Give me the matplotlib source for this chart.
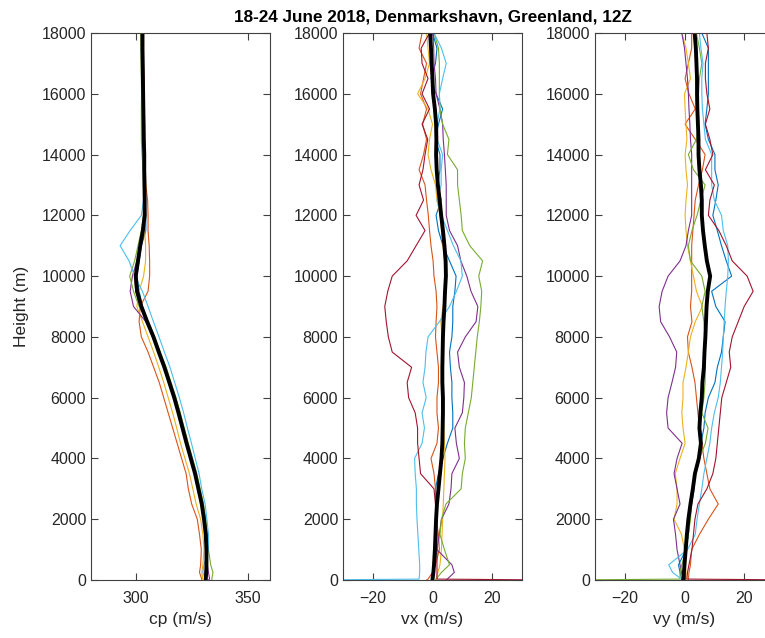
import matplotlib; matplotlib.use("Agg")
import matplotlib.pyplot as plt

plt.rcParams["font.family"] = ["Liberation Sans", "DejaVu Sans"]

# heights (m) shared by every profile
H = [0, 30, 250, 500, 1000, 1500, 2000, 2500, 3000, 3500, 4000, 4500, 5000, 5500, 6000,
     6500, 7000, 7500, 8000, 8500, 9000, 9500, 10000, 10500, 11000, 11500, 12000, 12500,
     13000, 13500, 14000, 14500, 15000, 15500, 16000, 16500, 17000, 17500, 18000]

# MATLAB default line colours, in plotting order
COLS = ["#0072BD", "#D95319", "#EDB120", "#7E2F8E", "#77AC30", "#4DBEEE", "#A2142F"]
NAMES = ["blue", "orange", "yellow", "purple", "green", "lightblue", "darkred"]

# ---- cp (m/s) ----
cp_blue = [331.0, 331.0, 331.0, 331.5, 332.0, 331.5, 330.8, 329.8, 328.5, 327.0, 325.2, 323.2, 321.5, 319.8, 317.8, 315.6, 313.3, 310.8, 308.3, 305.5, 303.0, 301.5, 300.5, 301.5, 302.5, 304.5, 304.5, 304.2, 304.0, 304.0, 303.9, 303.8, 303.7, 303.7, 303.6, 303.5, 303.5, 303.4, 303.3]
cp_orange = [329.5, 329.5, 328.5, 329.0, 329.3, 328.5, 327.5, 325.0, 323.5, 322.5, 320.5, 318.5, 316.5, 314.5, 312.5, 310.5, 308.0, 305.5, 302.5, 301.5, 302.0, 305.5, 306.2, 306.2, 306.0, 305.5, 305.5, 305.3, 304.5, 304.3, 304.3, 304.0, 304.0, 303.8, 303.8, 303.8, 303.5, 303.5, 303.5]
cp_yellow = [330.0, 330.0, 329.5, 330.0, 330.5, 330.0, 329.0, 327.0, 325.5, 324.0, 322.0, 320.0, 318.3, 316.5, 314.5, 312.5, 310.3, 308.0, 305.5, 303.0, 300.5, 301.5, 303.5, 304.4, 304.4, 304.0, 304.5, 304.0, 303.8, 303.6, 303.6, 303.5, 303.4, 303.4, 303.3, 303.2, 303.2, 303.0, 303.0]
cp_purple = [332.5, 333.0, 332.5, 332.0, 331.5, 331.5, 330.8, 329.8, 328.3, 326.8, 325.0, 323.0, 321.0, 319.3, 317.3, 315.2, 313.0, 310.5, 308.0, 304.5, 299.0, 297.5, 298.5, 300.5, 302.0, 303.0, 303.8, 303.8, 303.7, 303.7, 303.6, 303.5, 303.4, 303.3, 303.2, 303.1, 303.0, 302.9, 302.8]
cp_green = [334.0, 334.0, 334.5, 333.5, 332.5, 332.0, 331.3, 330.3, 328.8, 327.3, 325.4, 323.5, 321.7, 319.9, 318.0, 315.8, 313.6, 311.0, 308.5, 305.5, 301.5, 299.0, 297.3, 299.5, 301.0, 302.5, 303.5, 303.6, 303.4, 303.3, 302.8, 302.5, 302.5, 302.5, 302.6, 302.5, 302.4, 302.3, 302.2]
cp_lightblue = [331.5, 331.0, 330.0, 330.5, 332.5, 332.5, 331.8, 331.0, 329.5, 328.3, 326.6, 324.9, 323.1, 321.4, 319.5, 317.4, 315.3, 312.8, 310.4, 307.9, 305.5, 303.0, 299.5, 297.0, 293.0, 297.5, 302.5, 303.5, 303.6, 303.3, 303.3, 303.3, 303.0, 302.9, 302.8, 302.7, 302.6, 302.5, 302.7]
cp_darkred = [331.5, 331.5, 331.0, 331.5, 331.8, 331.3, 330.3, 329.3, 327.8, 326.3, 324.4, 322.5, 320.7, 318.9, 317.0, 314.8, 312.6, 310.1, 307.7, 304.8, 302.0, 300.0, 299.5, 300.8, 301.8, 303.0, 303.8, 303.9, 303.8, 303.7, 303.7, 303.5, 303.4, 303.3, 303.2, 303.1, 303.0, 303.0, 302.9]
cp_mean = [331.3, 331.3, 331.5, 331.6, 331.6, 331.3, 330.5, 329.5, 328.0, 326.5, 324.6, 322.7, 320.9, 319.1, 317.2, 315.0, 312.8, 310.3, 307.9, 305.1, 302.5, 300.6, 300.0, 301.0, 302.0, 303.2, 304.0, 304.0, 303.9, 303.8, 303.8, 303.6, 303.5, 303.4, 303.3, 303.2, 303.1, 303.0, 303.0]

# ---- vx (m/s) ----
vx_blue = [0.0, 0.3, 0.5, 0.8, 1.5, 1.5, 1.2, 1.0, 1.0, 2.0, 3.5, 5.0, 6.8, 6.8, 6.5, 6.5, 6.0, 5.7, 6.5, 6.8, 6.8, 7.5, 7.9, 5.7, 3.5, 2.0, 1.2, 2.9, 1.8, 2.5, 2.5, 1.0, 2.0, 3.4, 1.2, -0.5, 1.0, 1.5, 0.0]
vx_orange = [-2.0, -1.5, 0.0, 1.0, 2.3, 2.0, 1.2, 1.2, 1.0, 0.5, -0.5, 1.5, 2.0, 1.5, 1.5, 2.0, 2.0, 1.5, 1.0, 1.2, 1.5, 1.2, 0.5, 0.2, -0.5, -1.0, -1.4, -2.0, -2.5, -4.5, -3.0, -2.0, -3.3, -2.0, -4.0, -3.0, -2.0, -4.5, -3.5]
vx_yellow = [1.0, 1.2, 1.8, 2.5, 3.0, 3.2, 3.4, 3.6, 3.8, 4.0, 4.2, 4.0, 3.8, 3.6, 3.5, 3.5, 3.4, 3.3, 3.2, 2.8, 3.5, 4.6, 4.3, 4.0, 3.5, 3.0, 2.6, 1.5, 1.0, -0.5, -1.5, -1.0, 0.0, -1.5, -5.0, -2.5, -1.0, -1.5, -2.0]
vx_purple = [4.6, 5.0, 7.3, 6.5, 1.5, 2.3, 3.0, 5.5, 6.2, 6.5, 9.0, 8.0, 7.5, 10.0, 10.5, 10.7, 9.0, 8.4, 11.0, 14.6, 15.2, 12.9, 11.5, 9.5, 8.4, 5.7, 4.6, 4.6, 4.6, 4.3, 4.0, 3.6, 3.4, 2.5, 1.2, 1.0, 0.5, 0.4, 0.1]
vx_green = [1.0, 1.2, 3.0, 5.7, 4.0, 2.5, 3.0, 4.5, 9.6, 10.0, 11.0, 10.7, 11.0, 12.0, 13.0, 13.5, 14.0, 14.5, 15.0, 15.7, 16.2, 16.5, 15.5, 16.8, 12.5, 10.0, 9.6, 9.0, 8.4, 8.4, 5.0, 5.5, 3.4, 2.5, 2.3, 2.3, 2.3, 2.0, 0.5]
vx_lightblue = [-40.0, -4.5, -4.3, -4.3, -4.6, -4.9, -5.2, -5.4, -5.4, -5.8, -6.0, -3.5, -2.7, -3.5, -2.1, -3.2, -2.5, -2.2, -1.5, 2.3, 5.7, 8.0, 10.0, 9.5, 7.0, 5.0, 3.0, 1.5, 2.9, 2.9, 3.4, 1.5, 1.5, 2.5, 2.3, 3.4, 4.6, 3.0, 0.5]
vx_darkred = [40.0, 1.5, 1.5, 1.5, 1.5, 1.2, 1.5, 1.0, 0.5, -4.0, -4.5, -5.0, -5.0, -5.8, -8.0, -8.5, -7.0, -13.5, -14.8, -15.5, -16.0, -15.0, -13.5, -8.5, -5.5, -2.5, -5.5, -3.0, -4.5, -3.2, -2.5, -1.6, -3.5, -1.0, -3.5, -1.5, -3.5, -3.8, -1.0]
vx_mean = [0.0, 0.0, 0.3, 0.5, 0.8, 1.0, 1.2, 1.5, 2.0, 2.5, 3.0, 3.3, 3.4, 3.5, 3.5, 3.3, 3.3, 3.4, 3.5, 3.7, 4.0, 4.2, 4.5, 4.4, 4.0, 3.5, 2.9, 2.4, 1.8, 1.4, 1.2, 1.3, 1.2, 0.8, 0.2, 0.0, -0.3, -0.5, -0.8]

# ---- vy (m/s) ----
vy_blue = [-0.9, -0.9, -1.5, -2.0, 0.5, 1.3, 1.8, 2.4, 3.2, 3.6, 4.7, 5.5, 6.5, 6.9, 8.0, 10.2, 11.0, 12.4, 13.0, 13.6, 10.5, 9.1, 15.8, 14.0, 12.4, 11.0, 9.5, 10.5, 11.3, 10.2, 10.2, 8.0, 6.9, 7.5, 8.0, 8.0, 8.0, 8.0, 5.8]
vy_orange = [1.3, 1.3, 1.5, 2.0, 2.4, 5.0, 8.0, 11.3, 8.5, 7.5, 6.5, 5.8, 5.0, 4.5, 4.0, 3.5, 2.5, 1.3, 1.0, 2.5, 2.0, 2.4, 2.4, 2.4, 2.4, 2.8, 3.2, 3.6, 4.7, 6.0, 6.9, 3.6, 0.2, 3.6, 1.5, 0.2, 1.3, 2.4, 2.4]
vy_yellow = [0.5, 0.5, 0.5, 0.3, 0.0, -1.0, -3.5, -2.5, -2.5, -3.1, -1.5, 0.2, -0.5, -0.9, -0.5, -0.5, 0.5, 1.3, 2.0, 3.6, 6.0, 4.0, 3.0, 2.0, 1.0, 0.5, 0.2, 0.5, 1.0, 0.5, 0.2, 0.8, 0.5, 0.2, 0.0, 2.0, 1.3, 0.5, -0.9]
vy_purple = [-0.5, -0.5, -1.0, -1.5, -2.5, -3.0, -3.7, -1.5, -2.5, -3.5, -2.5, -0.8, -5.5, -6.0, -5.5, -4.2, -3.0, -2.6, -5.0, -8.0, -8.5, -7.5, -5.5, -1.5, 0.5, 1.3, 2.4, 2.4, 2.4, 2.4, 2.4, 2.0, 1.8, 1.5, 1.3, 1.0, 0.5, 0.0, -0.9]
vy_green = [-40.0, -1.5, -1.5, -0.9, 0.5, 1.3, 2.0, 2.4, 3.0, 3.6, 5.0, 7.0, 7.9, 5.8, 6.5, 6.9, 7.0, 7.0, 6.9, 6.5, 5.8, 6.9, 5.8, 2.0, 1.3, 2.5, 4.2, 5.5, 6.9, 3.0, 1.3, 4.0, 4.7, 4.7, 4.7, 5.0, 5.8, 5.0, 4.0]
vy_lightblue = [-0.9, -1.0, -4.0, -5.3, 1.0, 3.6, 4.2, 5.0, 5.8, 6.5, 7.5, 8.5, 9.1, 10.0, 11.3, 12.0, 12.4, 12.8, 13.0, 13.3, 13.6, 14.0, 14.5, 14.7, 14.5, 13.0, 12.4, 10.0, 9.1, 9.1, 9.1, 7.0, 6.5, 6.0, 5.8, 5.8, 6.2, 5.5, 5.0]
vy_darkred = [40.0, 0.8, 1.0, 1.5, 2.5, 3.0, 3.5, 4.5, 7.5, 9.5, 10.5, 11.0, 11.5, 12.0, 12.5, 14.0, 15.5, 15.0, 16.0, 18.0, 20.0, 23.0, 21.0, 16.0, 14.0, 11.5, 8.0, 8.5, 10.0, 7.0, 9.5, 8.5, 7.0, 8.5, 7.5, 7.0, 7.0, 8.0, 7.5]
vy_mean = [-0.5, -0.3, -0.2, 0.0, 0.4, 0.8, 1.3, 2.0, 2.8, 3.5, 4.8, 5.5, 5.0, 5.3, 5.8, 6.0, 6.5, 6.7, 7.0, 7.2, 7.4, 7.8, 8.6, 7.5, 6.8, 6.2, 5.8, 5.8, 5.5, 5.0, 4.7, 4.7, 4.5, 4.3, 4.2, 4.2, 4.0, 3.8, 3.4]

panels = [
    ([cp_blue, cp_orange, cp_yellow, cp_purple, cp_green, cp_lightblue, cp_darkred], cp_mean,
     "cp (m/s)", (280, 360), [300, 350]),
    ([vx_blue, vx_orange, vx_yellow, vx_purple, vx_green, vx_lightblue, vx_darkred], vx_mean,
     "vx (m/s)", (-30, 30), [-20, 0, 20]),
    ([vy_blue, vy_orange, vy_yellow, vy_purple, vy_green, vy_lightblue, vy_darkred], vy_mean,
     "vy (m/s)", (-30, 30), [-20, 0, 20]),
]

fig = plt.figure(figsize=(7.65, 6.38), dpi=100)
lefts = [91, 343, 595]   # pixel positions of the axes' left edges
txt = "#262626"
for (profs, mean, xl, xlim, xt), x0 in zip(panels, lefts):
    ax = fig.add_axes([x0 / 765, 1 - 580 / 638, 179 / 765, 547 / 638])
    for p, c in zip(profs, COLS):
        ax.plot(p, H, color=c, lw=0.8)
    ax.plot(mean, H, color="k", lw=2.8)
    ax.set_xlim(*xlim); ax.set_ylim(0, 18000)
    ax.set_xticks(xt); ax.set_yticks(range(0, 18001, 2000))
    ax.tick_params(direction="in", top=True, right=True, length=5, width=0.8,
                   labelsize=11.5, colors="#404040", labelcolor=txt)
    ax.tick_params(axis="x", pad=8)
    for s in ax.spines.values():
        s.set_color("#404040"); s.set_linewidth(0.8)
    ax.set_xlabel(xl, fontsize=12.5, color=txt, labelpad=4)
    if x0 == 91:
        ax.set_ylabel("Height (m)", fontsize=12.5, color=txt, labelpad=9)
    if x0 == 343:
        ax.set_title("18-24 June 2018, Denmarkshavn, Greenland, 12Z",
                     fontsize=12.3, fontweight="bold", color="k", pad=8)

fig.savefig("out.png", dpi=100)
